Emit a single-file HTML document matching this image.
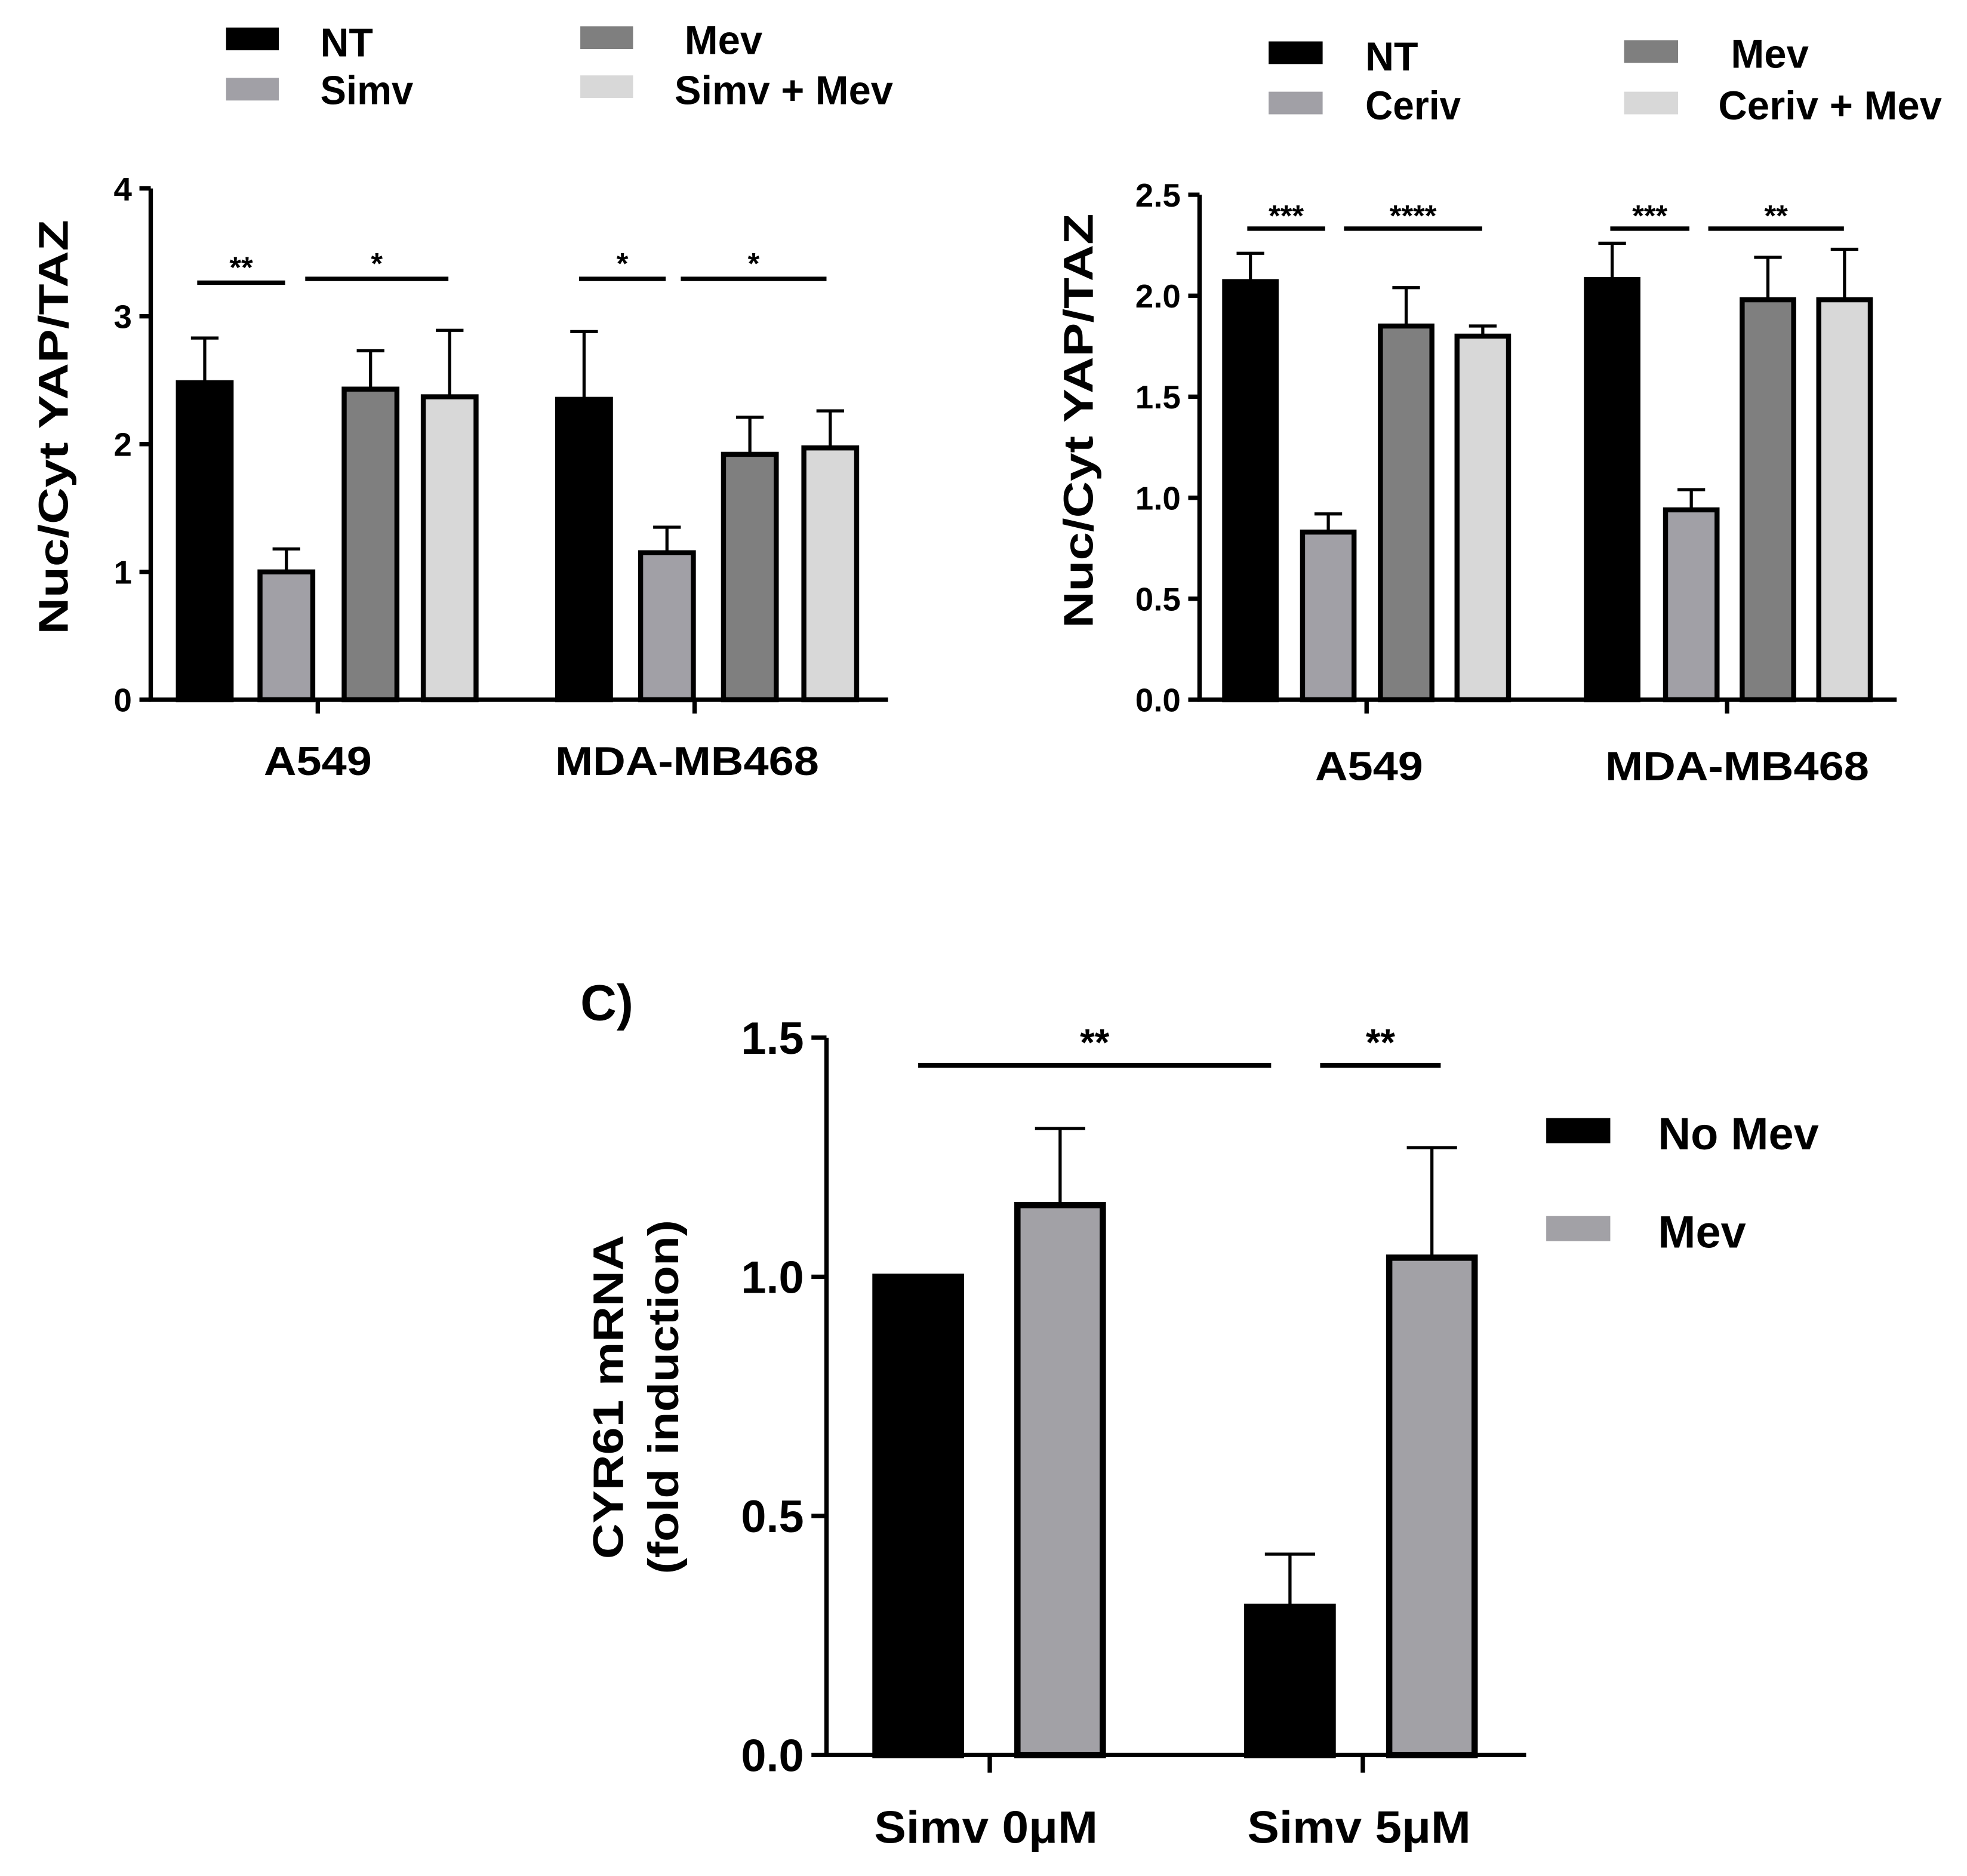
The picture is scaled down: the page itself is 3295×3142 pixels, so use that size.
<!DOCTYPE html>
<html><head><meta charset="utf-8"><style>
html,body{margin:0;padding:0;background:#fff}
svg{display:block}
text{font-family:"Liberation Sans",Arial,sans-serif;font-weight:bold;fill:#000}
</style></head><body>
<svg id="fig" xmlns="http://www.w3.org/2000/svg" width="3295" height="3142" viewBox="0 0 1566 1493.3" preserveAspectRatio="none"></svg>
<script>
// Chart A data
const aCategories = ["A549", "MDA-MB468"];
const aSeries = ["NT", "Simv", "Mev", "Simv + Mev"];
const aValues = [[2.48, 1.0, 2.43, 2.37], [2.35, 1.15, 1.92, 1.97]];
const aErrors = [[0.35, 0.18, 0.3, 0.52], [0.53, 0.2, 0.29, 0.29]];
const aTicks = ["0", "1", "2", "3", "4"];
const aSig = ["**", "*", "*", "*"];
// Chart B data
const bCategories = ["A549", "MDA-MB468"];
const bSeries = ["NT", "Ceriv", "Mev", "Ceriv + Mev"];
const bValues = [[2.07, 0.83, 1.85, 1.8], [2.08, 0.94, 1.98, 1.98]];
const bErrors = [[0.14, 0.09, 0.19, 0.05], [0.18, 0.1, 0.21, 0.25]];
const bTicks = ["0.0", "0.5", "1.0", "1.5", "2.0", "2.5"];
const bSig = ["***", "****", "***", "**"];
// Chart C data
const cCategories = ["Simv 0\u03bcM", "Simv 5\u03bcM"];
const cSeries = ["No Mev", "Mev"];
const cValues = [[1.0, 1.15], [0.31, 1.04]];
const cErrors = [[0, 0.16], [0.11, 0.23]];
const cTicks = ["0.0", "0.5", "1.0", "1.5"];
const cSig = ["**", "**"];

const NS = "http://www.w3.org/2000/svg";
const svg = document.getElementById("fig");
function mk(tag, attrs, parent) {
  const e = document.createElementNS(NS, tag);
  for (const k in attrs) e.setAttribute(k, attrs[k]);
  (parent || svg).appendChild(e);
  return e;
}
function txt(s, x, y, size, anchor, parent, len) {
  const t = mk("text", {x: x, y: y, "font-size": size, "text-anchor": anchor || "middle"}, parent);
  if (len) { t.setAttribute("textLength", len); t.setAttribute("lengthAdjust", "spacingAndGlyphs"); }
  t.textContent = s;
  return t;
}

function chart(cfg) {
  const g = mk("g", {});
  
  
  const ymax = parseFloat(cfg.ticks[cfg.ticks.length - 1]);
  const ys = v => cfg.y0 - (v / ymax) * (cfg.y0 - cfg.ytop);
  const ax = mk("path", {d: `M${cfg.x0},${cfg.ytop} V${cfg.y0} H${cfg.x1}`, stroke: "#000", "stroke-width": cfg.axw, fill: "none"}, g);
  
  
  cfg.ticks.forEach(t => {
    const y = ys(parseFloat(t));
    mk("line", {x1: cfg.x0 - cfg.tl, x2: cfg.x0, y1: y, y2: y, stroke: "#000", "stroke-width": cfg.axw}, g);
    const l = txt(t, cfg.x0 - cfg.tl - 6, y + cfg.tfs * 0.36, cfg.tfs, "end", g);
    
    
  });
  cfg.cats.forEach((c, i) => {
    const cx = cfg.catX[i];
    mk("line", {x1: cx, x2: cx, y1: cfg.y0, y2: cfg.y0 + cfg.tl + 2, stroke: "#000", "stroke-width": cfg.axw}, g);
    const l = txt(c, cfg.catLX[i], cfg.catLY, cfg.cfs, "middle", g, cfg.catLen[i]);
    
    
    cfg.vals[i].forEach((v, j) => {
      const bx = cfg.barX[i][j], w = cfg.bw, top = ys(v);
      const r = mk("rect", {x: bx, y: top, width: w, height: cfg.y0 - top, fill: cfg.colors[j], stroke: "#000", "stroke-width": cfg.bs}, g);
      
      
      const e = cfg.errs[i][j];
      if (e > 0) {
        const mx = bx + w / 2, et = ys(v + e);
        mk("line", {x1: mx, x2: mx, y1: top, y2: et, stroke: "#000", "stroke-width": 2.5}, g);
        mk("line", {x1: mx - cfg.cap, x2: mx + cfg.cap, y1: et, y2: et, stroke: "#000", "stroke-width": 2.5}, g);
      }
    });
  });
  cfg.sig.forEach((s, k) => {
    const L = cfg.sigL[k];
    mk("line", {x1: L[0], x2: L[1], y1: L[2], y2: L[2], stroke: "#000", "stroke-width": cfg.sigw}, g);
    const t = txt(s, (L[0] + L[1]) / 2, L[2] - cfg.sigOff, cfg.sfs, "middle", g);
    
    
  });
  cfg.ylab.forEach((s, k) => {
    const t = mk("text", {x: 0, y: 0, "font-size": cfg.yfs, "text-anchor": "middle", textLength: cfg.ylabLen[k], lengthAdjust: "spacingAndGlyphs", transform: `translate(${cfg.ylabX[k]},${cfg.ylabY}) rotate(-90)`}, g);
    t.textContent = s;
    
    
  });
  cfg.series.forEach((s, j) => {
    const L = cfg.leg[j];
    const r = mk("rect", {x: L[0], y: L[1], width: cfg.lw, height: cfg.lh, fill: cfg.colors[j]}, g);
    
    
    const t = txt(s, L[2], L[3], cfg.lfs, "start", g, L[4]);
    
    
  });
}

chart({name: "chart-a", x0: 120, x1: 707, y0: 557, ytop: 150, axw: 3.5, tl: 9, tfs: 26, cfs: 32,
  ticks: aTicks, cats: aCategories, vals: aValues, errs: aErrors, series: aSeries,
  catX: [253, 553], catLX: [253, 547], catLY: 617, catLen: [86, 210],
  barX: [[142, 207, 274, 337], [444, 510, 576, 640]], bw: 42, bs: 4, cap: 11,
  colors: ["#000", "#a1a0a6", "#7f7f7f", "#d8d8d8"],
  sig: aSig, sigL: [[157, 227, 225], [243, 357, 222], [461, 530, 222], [542, 658, 222]], sigw: 3.5, sigOff: 4, sfs: 24,
  ylab: ["Nuc/Cyt YAP/TAZ"], ylabX: [54], ylabY: 340, yfs: 33, ylabLen: [330],
  leg: [[180, 22, 255, 45, 42], [180, 62, 255, 83, 74], [462, 21, 545, 43, 62], [462, 60, 537, 83, 174]], lw: 42, lh: 18, lfs: 32});

chart({name: "chart-b", x0: 955, x1: 1510, y0: 557, ytop: 155, axw: 3.5, tl: 9, tfs: 26, cfs: 32,
  ticks: bTicks, cats: bCategories, vals: bValues, errs: bErrors, series: bSeries,
  catX: [1088, 1375], catLX: [1090, 1383], catLY: 621, catLen: [86, 210],
  barX: [[975, 1037, 1099, 1160], [1263, 1326, 1387, 1448]], bw: 41, bs: 4, cap: 11,
  colors: ["#000", "#a1a0a6", "#7f7f7f", "#d8d8d8"],
  sig: bSig, sigL: [[993, 1055, 182], [1070, 1180, 182], [1282, 1345, 182], [1360, 1468, 182]], sigw: 3.5, sigOff: 2, sfs: 24,
  ylab: ["Nuc/Cyt YAP/TAZ"], ylabX: [870], ylabY: 335, yfs: 33, ylabLen: [330],
  leg: [[1010, 33, 1087, 56, 42], [1010, 73, 1087, 95, 76], [1293, 32, 1378, 54, 62], [1293, 73, 1368, 95, 178]], lw: 43, lh: 18, lfs: 32});

chart({name: "chart-c", x0: 658, x1: 1215, y0: 1397, ytop: 826, axw: 3.5, tl: 12, tfs: 36, cfs: 36,
  ticks: cTicks, cats: cCategories, vals: cValues, errs: cErrors, series: cSeries,
  catX: [788, 1085], catLX: [785, 1082], catLY: 1467, catLen: [178, 178],
  barX: [[697, 810], [993, 1106]], bw: 68, bs: 5, cap: 20,
  colors: ["#000", "#a2a1a6"],
  sig: cSig, sigL: [[731, 1012, 848], [1051, 1147, 848]], sigw: 4, sigOff: 8, sfs: 30,
  ylab: ["CYR61 mRNA", "(fold induction)"], ylabX: [496, 540], ylabY: 1112, yfs: 34, ylabLen: [258, 282],
  leg: [[1231, 890, 1320, 915, 128], [1231, 968, 1320, 993, 70]], lw: 51, lh: 20, lfs: 36});

const c = txt("C)", 462, 812, 40, "start");


</script>
</body></html>
